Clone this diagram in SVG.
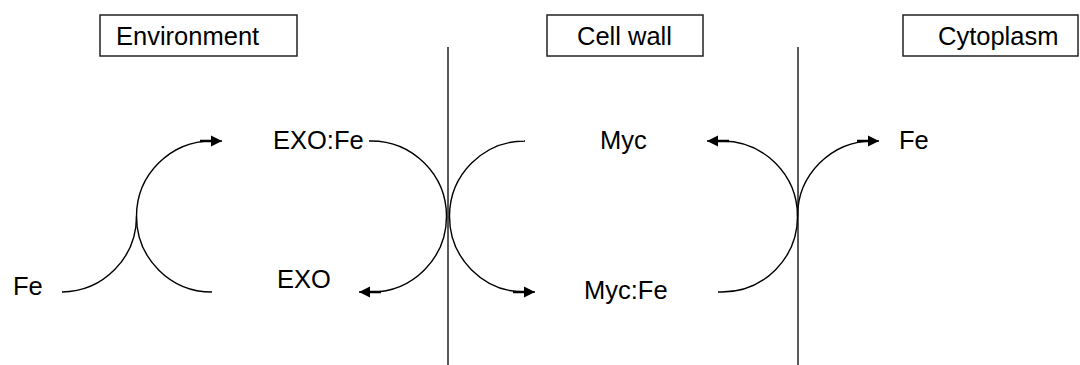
<svg xmlns="http://www.w3.org/2000/svg" width="1080" height="365" viewBox="0 0 1080 365">
<defs>
<style>
.lbl{font-family:"Liberation Sans",Arial,sans-serif;font-size:25.5px;fill:#000}
.box{fill:#fff;stroke:#222;stroke-width:1.5}
.wall{stroke:#222;stroke-width:1.5;fill:none}
.arc{fill:none;stroke:#000;stroke-width:1.4}
</style>
<marker id="arr" markerUnits="userSpaceOnUse" viewBox="0 0 22 12" refX="22" refY="6" markerWidth="22" markerHeight="12" orient="auto">
<path d="M0 4.8H11V0.5L22 6L11 11.5V7.2H0Z" fill="#000"/>
</marker>
</defs>
<rect width="1080" height="365" fill="#fff"/>
<g id="region-environment"><rect class="box" x="100" y="15" width="197" height="41"/><text class="lbl" x="116" y="45">Environment</text></g>
<g id="region-cellwall"><rect class="box" x="547" y="15" width="156" height="41"/><text class="lbl" x="577" y="45">Cell wall</text></g>
<g id="region-cytoplasm"><rect class="box" x="903" y="15" width="175" height="41"/><text class="lbl" x="938" y="45">Cytoplasm</text></g>
<g id="walls">
<line class="wall" x1="448" y1="47" x2="448" y2="365"/>
<line class="wall" x1="798" y1="47" x2="798" y2="365"/>
</g>
<g id="node-fe-env"><text class="lbl" x="13" y="295">Fe</text></g>
<g id="node-exofe"><text class="lbl" x="273" y="149">EXO:Fe</text></g>
<g id="node-exo"><text class="lbl" x="277" y="288">EXO</text></g>
<g id="node-myc"><text class="lbl" x="600" y="149">Myc</text></g>
<g id="node-mycfe"><text class="lbl" x="584" y="299">Myc:Fe</text></g>
<g id="node-fe-cyto"><text class="lbl" x="899" y="149">Fe</text></g>
<g id="connectors">
<path class="arc" d="M62 292A75.5 75.5 0 0 0 136.5 216.5"/>
<path class="arc" d="M212 292A75.5 75.5 0 0 1 212 141L222 141" marker-end="url(#arr)"/>
<path class="arc" d="M369 141L371 141A75.5 75.5 0 0 1 371 292L359 292" marker-end="url(#arr)"/>
<path class="arc" d="M524 141L525 141A75.5 75.5 0 0 0 525 292L535 292" marker-end="url(#arr)"/>
<path class="arc" d="M718 292L722 292A75.5 75.5 0 0 0 722 141L707 141" marker-end="url(#arr)"/>
<path class="arc" d="M797.5 216.5A75.5 75.5 0 0 1 873 141L879 141" marker-end="url(#arr)"/>
</g>
</svg>
